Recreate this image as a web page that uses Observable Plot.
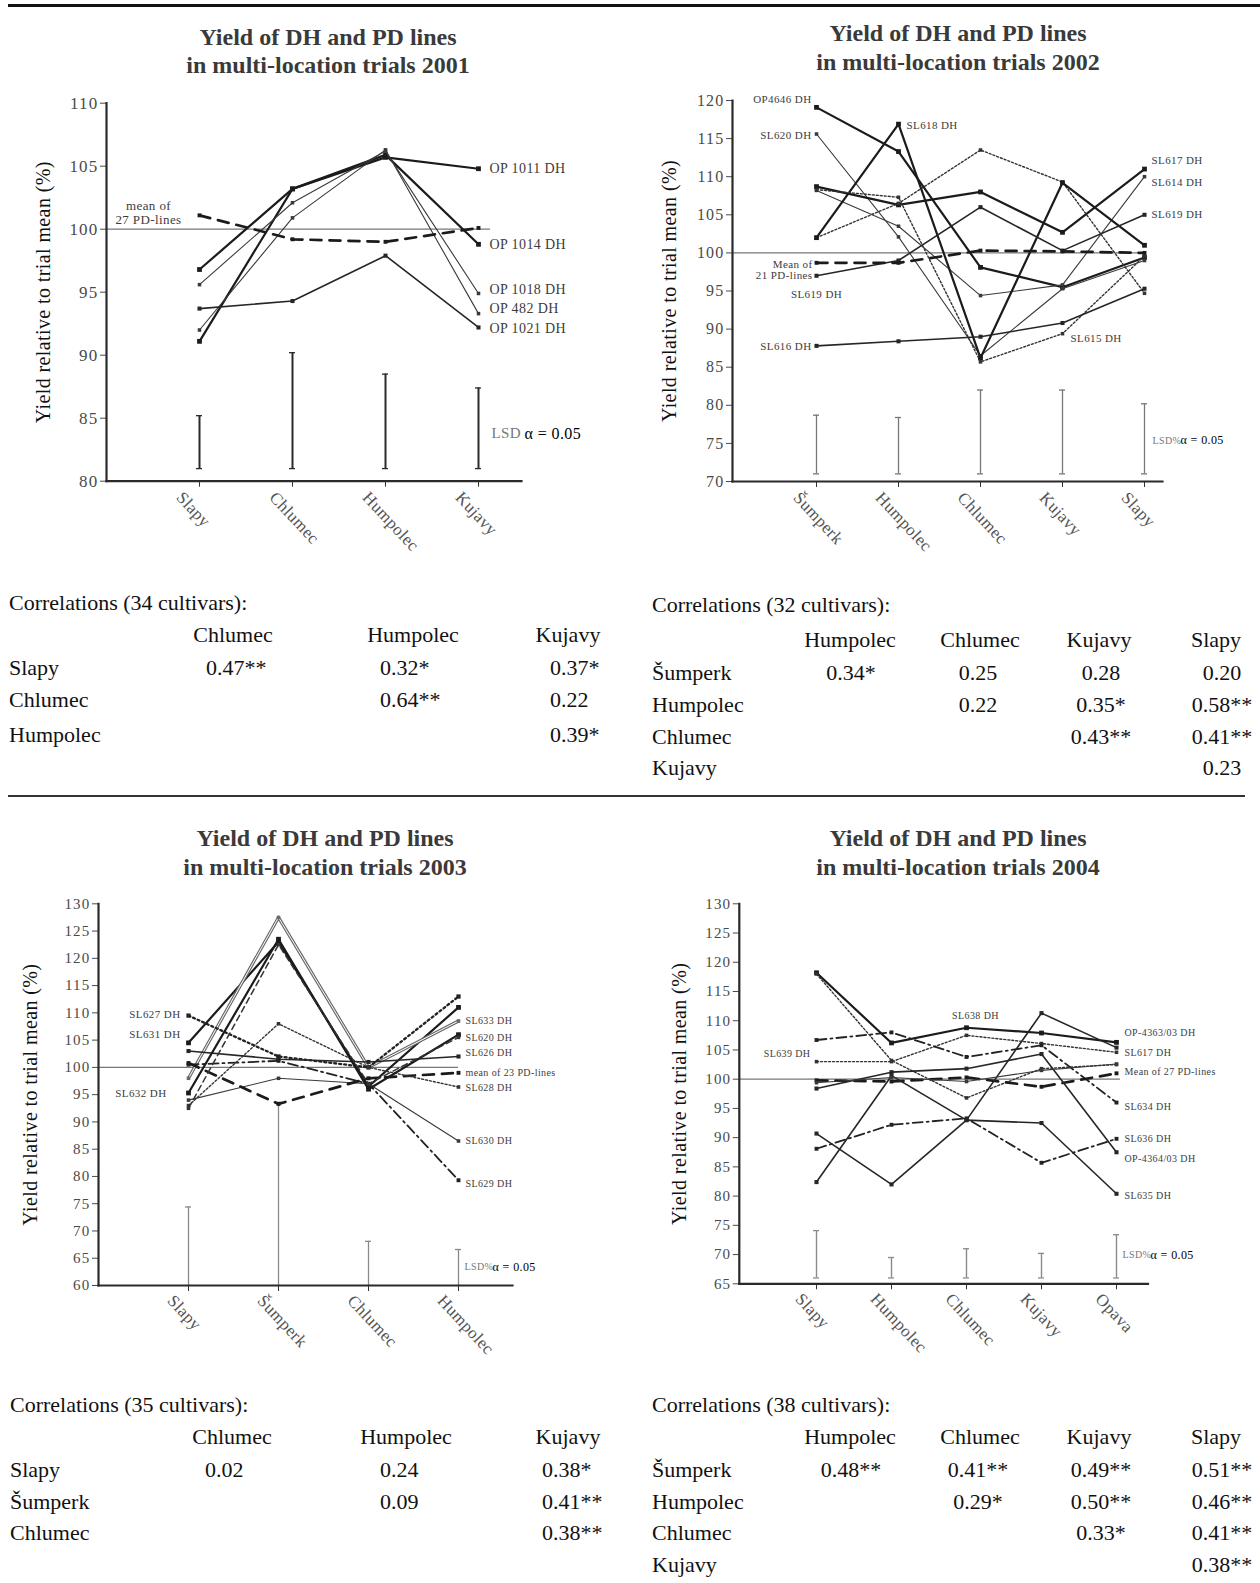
<!DOCTYPE html>
<html><head><meta charset="utf-8">
<script src="https://cdn.jsdelivr.net/npm/d3@7"></script>
<script src="https://cdn.jsdelivr.net/npm/@observablehq/plot@0.6"></script>
<style>
html,body{margin:0;padding:0;background:#fff}
#page{position:relative;width:1260px;height:1583px;overflow:hidden;background:#fff;font-family:"Liberation Serif",serif}
#page svg{position:absolute;overflow:visible}
#page svg g[aria-label="y-axis tick label"] text{letter-spacing:1.2px}
.t{position:absolute;white-space:nowrap}
</style></head>
<body><div id="page"></div>
<script>
// ---------------- DATA ----------------
const chartTitle1 = "Yield of DH and PD lines";
const chartTitle2 = "in multi-location trials";
const yLabel = "Yield relative to trial mean (%)";

// 2001
const years = ["2001","2002","2003","2004"];
const locs2001 = ["Slapy","Chlumec","Humpolec","Kujavy"];
const yield2001 = [
  [96.8,103.2,105.7,104.8],
  [91.1,103.2,105.9,98.8],
  [95.6,102.1,106.2,94.9],
  [92.0,100.9,106.3,93.3],
  [93.7,94.3,97.9,92.2],
  [101.1,99.2,99.0,100.1]
];
const lsd2001 = [85.2,90.2,88.5,87.4];
const yTicks2001 = [80,85,90,95,100,105,110];
const names2001 = ["OP 1011 DH","OP 1014 DH","OP 1018 DH","OP 482 DH","OP 1021 DH"];
const nameY2001 = [104.8,98.8,95.2,93.7,92.1];
const mean2001 = ["mean of\n27 PD-lines"];
const meanY2001 = [101.3];

// 2002
const locs2002 = ["Šumperk","Humpolec","Chlumec","Kujavy","Slapy"];
const yield2002 = [
  [119.1,113.3,98.1,95.5,99.4],
  [115.6,102.1,86.5,95.3,99.0],
  [108.7,106.3,108.0,102.7,111.0],
  [108.2,103.5,94.4,95.8,110.0],
  [102.0,106.5,113.5,109.3,94.7],
  [102.0,116.9,86.2,109.2,101.0],
  [97.0,99.0,106.0,100.3,105.0],
  [108.3,107.3,85.7,89.4,99.6],
  [87.8,88.4,89.0,90.8,95.3],
  [98.7,98.7,100.3,100.2,100.0]
];
const lsd2002 = [78.7,78.4,82.0,82.0,80.2];
const yTicks2002 = [70,75,80,85,90,95,100,105,110,115,120];
const leftNames2002 = ["OP4646 DH","SL620 DH","SL616 DH"];
const leftY2002 = [120.2,115.4,87.7];
const mean2002 = ["Mean of\n21 PD-lines"];
const meanY2002 = [97.8];
const midNames2002 = ["SL619 DH"];
const midY2002 = [94.6];
const peakNames2002 = ["SL618 DH"];
const peakY2002 = [116.8];
const kujNames2002 = ["SL615 DH"];
const kujY2002 = [88.8];
const rightNames2002 = ["SL617 DH","SL614 DH","SL619 DH"];
const rightY2002 = [112.1,109.3,105.1];

// 2003
const locs2003 = ["Slapy","Šumperk","Chlumec","Humpolec"];
const yield2003 = [
  [104.5,123.0,96.5,111.0],
  [98.0,127.5,100.0,108.5],
  [109.5,102.0,100.0,113.0],
  [103.0,101.5,101.0,102.0],
  [100.5,101.2,97.0,79.3],
  [94.0,98.0,97.0,86.5],
  [100.8,93.3,98.0,99.0],
  [93.0,108.0,100.0,96.4],
  [95.3,123.5,96.0,106.0],
  [92.5,122.5,97.0,105.5]
];
const lsd2003 = [74.4,93.6,68.1,66.6];
const yTicks2003 = [60,65,70,75,80,85,90,95,100,105,110,115,120,125,130];
const leftNames2003 = ["SL627 DH","SL631 DH"];
const leftY2003 = [109.8,106.0];
const left2Names2003 = ["SL632 DH"];
const left2Y2003 = [95.2];
const rightNames2003 = ["SL633 DH","SL620 DH","SL626 DH","mean of 23 PD-lines","SL628 DH","SL630 DH","SL629 DH"];
const rightY2003 = [108.6,105.4,102.7,99.0,96.2,86.5,78.7];

// 2004
const locs2004 = ["Slapy","Humpolec","Chlumec","Kujavy","Opava"];
const yield2004 = [
  [118.2,106.2,108.8,107.9,106.3],
  [118.0,103.2,96.8,101.8,102.5],
  [103.0,103.0,107.5,106.1,104.6],
  [106.7,108.0,103.8,105.8,96.0],
  [99.8,99.6,100.3,98.7,101.0],
  [98.4,101.2,101.8,104.3,87.5],
  [88.1,92.2,93.3,85.7,89.8],
  [82.4,100.6,93.0,92.5,80.4],
  [90.7,82.0,93.0,111.3,105.4],
  [99.4,100.3,99.6,101.5,102.6]
];
const lsd2004 = [74.1,69.5,71.0,70.2,73.4];
const yTicks2004 = [65,70,75,80,85,90,95,100,105,110,115,120,125,130];
const leftNames2004 = ["SL639 DH"];
const leftY2004 = [104.3];
const topNames2004 = ["SL638 DH"];
const topY2004 = [110.9];
const rightNames2004 = ["OP-4363/03 DH","SL617 DH","Mean of 27 PD-lines","SL634 DH","SL636 DH","OP-4364/03 DH","SL635 DH"];
const rightY2004 = [107.9,104.5,101.3,95.3,89.8,86.4,80.1];

const lsdText = ["LSD","LSD%"];
const alphaText = "α = 0.05";

// correlation tables
const corrTitles = ["Correlations (34 cultivars):","Correlations (32 cultivars):","Correlations (35 cultivars):","Correlations (38 cultivars):"];
const corrCols2001 = ["Chlumec","Humpolec","Kujavy"];
const corrRows2001 = ["Slapy","Chlumec","Humpolec"];
const corrVals2001 = [["0.47**","0.32*","0.37*"],["","0.64**","0.22"],["","","0.39*"]];
const corrCols2002 = ["Humpolec","Chlumec","Kujavy","Slapy"];
const corrRows2002 = ["Šumperk","Humpolec","Chlumec","Kujavy"];
const corrVals2002 = [["0.34*","0.25","0.28","0.20"],["","0.22","0.35*","0.58**"],["","","0.43**","0.41**"],["","","","0.23"]];
const corrCols2003 = ["Chlumec","Humpolec","Kujavy"];
const corrRows2003 = ["Slapy","Šumperk","Chlumec"];
const corrVals2003 = [["0.02","0.24","0.38*"],["","0.09","0.41**"],["","","0.38**"]];
const corrCols2004 = ["Humpolec","Chlumec","Kujavy","Slapy"];
const corrRows2004 = ["Šumperk","Humpolec","Chlumec","Kujavy"];
const corrVals2004 = [["0.48**","0.41**","0.49**","0.51**"],["","0.29*","0.50**","0.46**"],["","","0.33*","0.41**"],["","","","0.38**"]];

// ---------------- STYLES ----------------
const SERIF = '"Liberation Serif","Times New Roman",serif';
const STY = {
  thick:{stroke:"#1b1b1b",w:2.2,r:2.7},
  med:{stroke:"#262626",w:1.6,r:2.3},
  thin:{stroke:"#3a3a3a",w:1.1,r:2},
  dotted:{stroke:"#333",w:1.4,dash:"2,2",r:2},
  dottedThick:{stroke:"#222",w:2.3,dash:"2,3",r:2.4},
  dashed:{stroke:"#333",w:1.5,dash:"6,4",r:2},
  dashDot:{stroke:"#222",w:1.8,dash:"10,4,2,4",r:2.2},
  mean:{stroke:"#1b1b1b",w:2.7,dash:"11,8",r:2.2},
  double:{stroke:"#6a6a6a",w:3.2,r:2,inner:"#fff"}
};

const page = document.getElementById("page");

function txt(s, x, yc, o = {}) {
  const size = o.size || 22;
  const d = document.createElement("div");
  d.className = "t";
  d.textContent = s;
  d.style.top = (yc - size * 0.65) + "px";
  d.style.lineHeight = (size * 1.3) + "px";
  d.style.fontFamily = o.family || SERIF;
  d.style.fontSize = size + "px";
  d.style.fontWeight = o.weight || "normal";
  d.style.color = o.color || "#111";
  if (o.ls) d.style.letterSpacing = o.ls;
  d.style.left = x + "px";
  if (o.align === "center") d.style.transform = "translateX(-50%)";
  page.appendChild(d);
}

function panel(c) {
  const rows = c.values.flatMap((vals, i) => vals.map((v, j) => ({s: i, loc: c.locs[j], v})));
  const lsdRows = c.locs.map((loc, j) => ({loc, top: c.lsd[j], base: c.lsdBase}));
  const refInset = (c.width - c.mr) - (c.xr[1] + c.refExtend);
  const marks = [
    Plot.ruleY([100], {stroke: "#777", strokeWidth: 1.2, insetRight: refInset}),
    Plot.ruleX(lsdRows, {x: "loc", y1: "base", y2: "top", stroke: c.lsdColor, strokeWidth: c.lsdWidth}),
    Plot.ruleY(lsdRows, {y: "top", x1: "loc", x2: "loc", insetLeft: -3, insetRight: -3, stroke: c.lsdColor, strokeWidth: 1.3})
  ];
  if (c.lsdBaseCap) marks.push(Plot.ruleY(lsdRows, {y: "base", x1: "loc", x2: "loc", insetLeft: -3, insetRight: -3, stroke: c.lsdColor, strokeWidth: 1.3}));
  c.values.forEach((vals, i) => {
    const st = STY[c.styles[i]];
    const d = rows.filter(r => r.s === i);
    const opt = {x: "loc", y: "v", stroke: st.stroke, strokeWidth: st.w};
    if (st.dash) opt.strokeDasharray = st.dash;
    marks.push(Plot.line(d, opt));
    if (st.inner) marks.push(Plot.line(d, {x: "loc", y: "v", stroke: st.inner, strokeWidth: 1}));
    marks.push(Plot.dot(d, {x: "loc", y: "v", symbol: "square", r: st.r, fill: st.stroke, stroke: "none"}));
  });
  // series labels
  c.labels.forEach(g => {
    const data = g.texts.map((t, k) => ({t, y: g.ys[k], loc: c.locs[g.loc]}));
    marks.push(Plot.text(data, {x: "loc", y: "y", text: "t", dx: g.dx, textAnchor: g.anchor, fontSize: g.size, fill: g.fill || "#3c3c3c", lineHeight: 1.05}));
  });
  // axes
  marks.push(Plot.axisY({ticks: c.yTicks, tickSize: 6, tickPadding: 2, fontSize: c.tickFont, color: "#4a4a4a", label: null, tickFormat: d => String(d)}));
  marks.push(Plot.axisX({tickSize: 6, tickFormat: () => "", label: null, color: "#333"}));
  marks.push(Plot.frame({anchor: "left", stroke: "#2a2a2a", strokeWidth: 2.2}));
  marks.push(Plot.frame({anchor: "bottom", stroke: "#2a2a2a", strokeWidth: 2.2}));
  // rotated location labels
  marks.push(Plot.text(c.locs, {x: d => d, text: d => d, frameAnchor: "bottom", dx: c.xlabDx, dy: c.xlabDy, rotate: 47, textAnchor: "start", fontSize: c.xlabFont, fill: "#555"}));
  // y label
  marks.push(Plot.text([yLabel], {text: d => d, frameAnchor: "left", textAnchor: "middle", dx: c.ylabDx, dy: c.ylabDy || 0, rotate: -90, fontSize: 20, fill: "#111"}));

  const svg = Plot.plot({
    width: c.width, height: c.height,
    marginTop: c.mt, marginBottom: c.mb, marginLeft: c.ml, marginRight: c.mr,
    x: {type: "point", domain: c.locs, range: c.xr, padding: 0},
    y: {domain: c.yDomain, nice: false},
    style: {fontFamily: SERIF, fontSize: "13px", background: "transparent", overflow: "visible", letterSpacing: "0.4px"},
    marks
  });
  svg.style.left = c.left + "px";
  svg.style.top = c.top + "px";
  page.appendChild(svg);
}

// ---------------- PANELS ----------------
panel({
  locs: locs2001, values: yield2001, lsd: lsd2001, lsdBase: 81, lsdColor: "#2a2a2a", lsdWidth: 2, lsdBaseCap: true,
  styles: ["thick","thick","thin","thin","med","mean"],
  yDomain: [80,110], yTicks: yTicks2001, tickFont: 17,
  left: 0, top: 70, width: 630, height: 530, mt: 32.7, mb: 119.3, ml: 106, mr: 109, xr: [199, 478], refExtend: 12,
  xlabDx: -24, xlabDy: 17, xlabFont: 17, ylabDx: -63,
  labels: [
    {texts: names2001, ys: nameY2001, loc: 3, dx: 11, anchor: "start", size: 14},
    {texts: mean2001, ys: meanY2001, loc: 0, dx: -51, anchor: "middle", size: 13},
    {texts: [lsdText[0]], ys: [83.8], loc: 3, dx: 13, anchor: "start", size: 15, fill: "#777"},
    {texts: [alphaText], ys: [83.8], loc: 3, dx: 46, anchor: "start", size: 16, fill: "#000"}
  ]
});

panel({
  locs: locs2002, values: yield2002, lsd: lsd2002, lsdBase: 71, lsdColor: "#777", lsdWidth: 1.3, lsdBaseCap: true,
  styles: ["thick","thin","thick","thin","dotted","thick","med","dotted","med","mean"],
  yDomain: [70,120], yTicks: yTicks2002, tickFont: 16,
  left: 630, top: 70, width: 630, height: 530, mt: 30, mb: 119, ml: 102, mr: 98, xr: [186, 514], refExtend: 0,
  xlabDx: -24, xlabDy: 17, xlabFont: 17, ylabDx: -63,
  labels: [
    {texts: leftNames2002, ys: leftY2002, loc: 0, dx: -5, anchor: "end", size: 11},
    {texts: mean2002, ys: meanY2002, loc: 0, dx: -4, anchor: "end", size: 11},
    {texts: midNames2002, ys: midY2002, loc: 0, dx: 0, anchor: "middle", size: 11},
    {texts: peakNames2002, ys: peakY2002, loc: 1, dx: 8, anchor: "start", size: 11},
    {texts: kujNames2002, ys: kujY2002, loc: 3, dx: 8, anchor: "start", size: 11},
    {texts: rightNames2002, ys: rightY2002, loc: 4, dx: 7, anchor: "start", size: 11},
    {texts: [lsdText[1]], ys: [75.4], loc: 4, dx: 8, anchor: "start", size: 10, fill: "#777"},
    {texts: [alphaText], ys: [75.4], loc: 4, dx: 36, anchor: "start", size: 12, fill: "#000"}
  ]
});

panel({
  locs: locs2003, values: yield2003, lsd: lsd2003, lsdBase: 60, lsdColor: "#8a8a8a", lsdWidth: 1.3, lsdBaseCap: false,
  styles: ["thick","double","dottedThick","med","dashDot","thin","mean","dotted","thick","dashed"],
  yDomain: [60,130], yTicks: yTicks2003, tickFont: 15,
  left: 0, top: 870, width: 630, height: 500, mt: 33.3, mb: 85, ml: 98, mr: 118, xr: [188, 458], refExtend: 0,
  xlabDx: -22, xlabDy: 16, xlabFont: 17, ylabDx: -68,
  labels: [
    {texts: leftNames2003, ys: leftY2003, loc: 0, dx: -8, anchor: "end", size: 11},
    {texts: left2Names2003, ys: left2Y2003, loc: 0, dx: -22, anchor: "end", size: 11},
    {texts: rightNames2003, ys: rightY2003, loc: 3, dx: 7, anchor: "start", size: 10},
    {texts: [lsdText[1]], ys: [63.4], loc: 3, dx: 6, anchor: "start", size: 10, fill: "#777"},
    {texts: [alphaText], ys: [63.4], loc: 3, dx: 34, anchor: "start", size: 12, fill: "#000"}
  ]
});

panel({
  locs: locs2004, values: yield2004, lsd: lsd2004, lsdBase: 66, lsdColor: "#8a8a8a", lsdWidth: 1.4, lsdBaseCap: true,
  styles: ["thick","dotted","dotted","dashDot","mean","med","dashDot","med","med","thin"],
  yDomain: [65,130], yTicks: yTicks2004, tickFont: 15,
  left: 630, top: 870, width: 630, height: 500, mt: 33.3, mb: 86.7, ml: 108.8, mr: 112.5, xr: [185.3, 486.9], refExtend: 3,
  xlabDx: -22, xlabDy: 16, xlabFont: 17, ylabDx: -60,
  labels: [
    {texts: leftNames2004, ys: leftY2004, loc: 0, dx: -6, anchor: "end", size: 10},
    {texts: topNames2004, ys: topY2004, loc: 2, dx: 9, anchor: "middle", size: 10},
    {texts: rightNames2004, ys: rightY2004, loc: 4, dx: 8, anchor: "start", size: 10},
    {texts: [lsdText[1]], ys: [70.0], loc: 4, dx: 6, anchor: "start", size: 10, fill: "#777"},
    {texts: [alphaText], ys: [70.0], loc: 4, dx: 34, anchor: "start", size: 12, fill: "#000"}
  ]
});

// ---------------- TITLES ----------------
const titlePos = [[328, 38, 66], [958, 34, 63], [325, 839, 868], [958, 839, 868]];
titlePos.forEach(([x, y1, y2], i) => {
  txt(chartTitle1, x, y1, {align: "center", size: 24, weight: "bold", color: "#3a3a3a"});
  txt(chartTitle2 + " " + years[i], x, y2, {align: "center", size: 24, weight: "bold", color: "#3a3a3a"});
});

// ---------------- TABLES ----------------
function table(title, cols, rowNames, vals, L) {
  txt(title, L.x0, L.yTitle);
  cols.forEach((c, j) => txt(c, L.colCenter[j], L.yHead, {align: "center"}));
  rowNames.forEach((r, i) => {
    txt(r, L.x0, L.yRows[i]);
    vals[i].forEach((v, j) => { if (v) txt(v, L.valX[j], L.yRows[i], {align: L.valAlign}); });
  });
}
table(corrTitles[0], corrCols2001, corrRows2001, corrVals2001,
  {x0: 9, yTitle: 603, yHead: 635, yRows: [668, 700, 735], colCenter: [233, 413, 568], valX: [206, 380, 550], valAlign: "left"});
table(corrTitles[1], corrCols2002, corrRows2002, corrVals2002,
  {x0: 652, yTitle: 605, yHead: 640, yRows: [673, 705, 737, 768], colCenter: [850, 980, 1099, 1216], valX: [851, 978, 1101, 1222], valAlign: "center"});
table(corrTitles[2], corrCols2003, corrRows2003, corrVals2003,
  {x0: 10, yTitle: 1405, yHead: 1437, yRows: [1470, 1502, 1533], colCenter: [232, 406, 568], valX: [205, 380, 542], valAlign: "left"});
table(corrTitles[3], corrCols2004, corrRows2004, corrVals2004,
  {x0: 652, yTitle: 1405, yHead: 1437, yRows: [1470, 1502, 1533, 1565], colCenter: [850, 980, 1099, 1216], valX: [851, 978, 1101, 1222], valAlign: "center"});

// ---------------- RULES ----------------
function hline(x1, x2, y, w, color) {
  const d = document.createElement("div");
  d.style.cssText = `position:absolute;left:${x1}px;top:${y - w / 2}px;width:${x2 - x1}px;height:${w}px;background:${color}`;
  page.appendChild(d);
}
hline(8, 1260, 5, 3, "#111");
hline(8, 1245, 796, 1.5, "#333");
</script>
</body></html>
